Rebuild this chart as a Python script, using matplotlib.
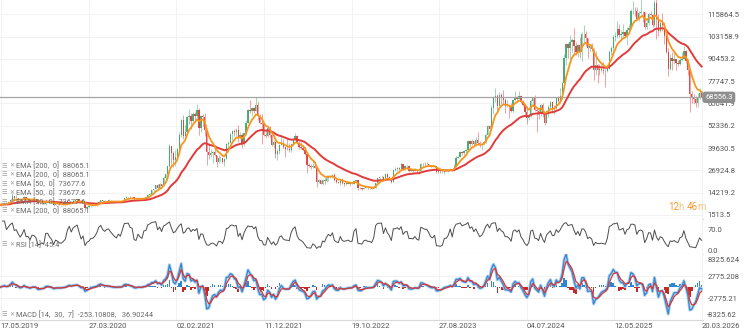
import matplotlib
matplotlib.use('Agg')
import matplotlib.pyplot as plt
import matplotlib.dates as mdates
import numpy as np
import pandas as pd

plt.rcParams['font.family'] = ['Roboto', 'DejaVu Sans']

# weekly BTC candles (open = previous close)
first_open = 7000
close = [
    # 2019
    7360, 8000, 8550,
    7800, 8700, 10200, 12400,
    11000, 11350, 10550, 9850,
    10500, 11850, 10350, 10400, 9600,
    10400, 10360, 10000, 8200,
    8150, 8300, 7950, 9250,
    9250, 8800, 8500, 7300, 7750,
    7550, 7200, 7150, 7250,
    # 2020
    7350, 8050, 8900, 8450, 9350,
    9800, 10350, 9700, 8700,
    9100, 5600, 6200, 6400,
    6850, 6850, 7100, 7550,
    8850, 9800, 9350, 9150, 9550,
    9650, 9450, 9300, 9150,
    9050, 9250, 9150, 9550, 11350,
    11600, 11800, 11550, 11500,
    10500, 10400, 10950, 10700,
    10550, 11300, 11350, 12950, 13550,
    15550, 16300, 18700, 17150,
    19150, 18050, 22850, 24700,
    # 2021
    29400, 40600, 36800, 33000, 34300,
    39300, 47100, 55900, 46300,
    48800, 57200, 58100, 55100,
    59000, 58100, 61300, 51100, 57800,
    57400, 49700, 37300, 35700,
    36900, 37300, 35500, 31600,
    33800, 33800, 31800, 33600, 42200,
    42800, 47800, 49300, 48900,
    49900, 45200, 47300, 42700,
    48200, 53900, 61500, 60900, 62200,
    61000, 64100, 58100, 53700,
    53600, 47100, 46700, 50800, 47200,
    # 2022
    41600, 43100, 36500, 37700,
    41500, 42400, 40000, 39200,
    39100, 38800, 41800, 44500,
    46300, 42800, 40500, 39700, 38600,
    36000, 30100, 29200, 28600,
    29700, 28400, 20500, 21200,
    19300, 21600, 20800, 22600, 23800,
    23200, 24400, 21200, 20300,
    19800, 21400, 19700, 19300, 19400,
    19500, 19200, 19200, 20600,
    21300, 17000, 16700, 16500,
    17000, 17100, 16800, 16800, 16600,
    # 2023
    16900, 19900, 22700, 23100,
    23400, 21600, 24600, 23200,
    22300, 20200, 27400, 27500, 28500,
    28000, 30500, 27800, 29300,
    29500, 26800, 26900, 26700,
    27200, 26500, 26300, 30700, 30500,
    30300, 30300, 29900, 29300,
    29100, 29400, 26100, 26100,
    25800, 25900, 26600, 26600, 26900,
    27900, 26900, 29700, 33900,
    34700, 37300, 36600, 37700,
    38700, 43800, 42000, 43700, 42100,
    # 2024
    44200, 42800, 41300, 41800,
    43200, 47100, 52100, 50700,
    62400, 68300, 69400, 63800, 69900,
    68000, 67100, 63800, 63800,
    62900, 60800, 67000, 68500, 67500,
    69300, 66000, 64100, 60300,
    56700, 57900, 66700, 67900,
    61400, 60900, 58900, 64100, 59100,
    53900, 60500, 63200, 65800,
    62100, 62400, 68400, 66600,
    69500, 76500, 91000, 98900, 96400,
    99800, 101400, 97800, 94200,
    # 2025
    98100, 94500, 104500, 104700, 102400,
    96500, 97600, 96100, 84400,
    86700, 84300, 84200, 84400,
    83800, 83400, 84900, 94600,
    96900, 103000, 103500, 107300, 104000,
    104400, 105900, 103300, 107100,
    108000, 117500, 117900, 117600,
    113300, 116700, 117400, 116900, 108400,
    110700, 115900, 115700, 109600,
    122300, 113200, 106400, 111000, 109600,
    103300, 94500, 84700, 90900,
    89400, 90300, 88100, 87300,
    # 2026
    90000, 90500, 95000, 89500, 84000,
    70500, 68800, 67500, 65500,
    68000, 71000, 68556.3,
]
high = [
    # 2019
    8100, 8100, 9000,
    8800, 8800, 10300, 13800,
    12500, 13100, 11400, 10700,
    10700, 12300, 11900, 10900, 10500,
    10900, 10500, 10500, 10050,
    8500, 8750, 8400, 10350,
    9550, 9450, 8950, 8550, 7850,
    7750, 7650, 7250, 7550,
    # 2020
    7450, 8200, 9000, 9150, 9550,
    9850, 10500, 10400, 9950,
    9200, 9200, 6900, 6950,
    7000, 7450, 7200, 7700,
    9450, 10000, 9950, 9850, 9600,
    10400, 9950, 9600, 9350,
    9300, 9450, 9300, 9650, 11450,
    12100, 12000, 12450, 11700,
    12050, 10650, 11000, 11000,
    10950, 11350, 11700, 13200, 13850,
    15900, 16400, 18800, 19400,
    19900, 19300, 23800, 25000,
    # 2021
    29600, 41900, 41000, 37900, 38500,
    39900, 48900, 56300, 58300,
    52600, 58000, 61700, 59400,
    60000, 60400, 64800, 62600, 58500,
    59000, 59600, 49800, 42400,
    39300, 38000, 41300, 35800,
    35900, 35000, 34600, 33900, 42300,
    43400, 48100, 49800, 50500,
    51000, 52900, 48800, 48300,
    48500, 55800, 62000, 67000, 62900,
    63000, 69000, 66300, 59300,
    59000, 53800, 50400, 51800, 52100,
    # 2022
    47900, 44400, 43500, 38900,
    41900, 45800, 44600, 40300,
    45400, 42500, 42000, 44800,
    48200, 47300, 43400, 42900, 40700,
    40000, 36100, 31400, 30600,
    32300, 31500, 28500, 21800,
    21500, 22000, 22400, 24200, 24500,
    24200, 24900, 25200, 21900,
    20400, 21600, 22700, 19900, 20300,
    20400, 19900, 19700, 20800,
    21400, 21400, 17200, 16900,
    17300, 17400, 18300, 16900, 16900,
    # 2023
    16950, 20000, 22800, 23400,
    24200, 23500, 25200, 25200,
    23900, 22400, 27700, 28800, 29000,
    28800, 31000, 30600, 30000,
    29800, 29800, 27600, 27400,
    28400, 27400, 26700, 31000, 31400,
    31500, 31800, 30400, 30000,
    29900, 30200, 29500, 26800,
    28100, 26300, 26800, 27400, 27200,
    28500, 28000, 30300, 35000,
    35300, 38000, 37900, 38400,
    39000, 44400, 44000, 44600, 43800,
    # 2024
    45800, 48900, 43400, 42200,
    43800, 48200, 52800, 52900,
    63900, 69000, 73800, 70500, 71600,
    71300, 72800, 67900, 67200,
    64400, 65500, 67300, 71900, 69500,
    71900, 70100, 66800, 64500,
    63800, 59400, 67400, 68400,
    70000, 62600, 62700, 64900, 65100,
    59900, 60600, 64100, 66400,
    66000, 64400, 68900, 69500,
    73600, 77200, 93400, 99600, 99500,
    103900, 102600, 108300, 99900,
    # 2025
    98800, 102700, 105900, 109600, 106400,
    102500, 98800, 99500, 96500,
    95000, 87400, 87400, 88700,
    88500, 84700, 86000, 95600,
    97900, 104300, 105800, 111900, 110500,
    106800, 110600, 106200, 108500,
    110500, 118900, 123200, 120200,
    119800, 117700, 124500, 117500, 117400,
    113400, 116400, 117900, 115900,
    123900, 126200, 115900, 112000, 116400,
    111200, 107500, 96600, 93000,
    94100, 94600, 90400, 89900,
    # 2026
    91000, 94500, 97900, 95500, 90500,
    84500, 72200, 70500, 69200,
    70800, 74000, 72300,
]
low = [
    # 2019
    6900, 7250, 7950,
    7500, 7700, 8600, 10100,
    10000, 10900, 9100, 9450,
    9300, 10400, 9800, 9900, 9400,
    9550, 9950, 9900, 7900,
    7900, 8000, 7800, 7350,
    8900, 8750, 8400, 6800, 7000,
    7300, 7050, 6450, 7050,
    # 2020
    6850, 7300, 8000, 8250, 8400,
    9150, 9750, 9500, 8500,
    8550, 3850, 4900, 5700,
    6200, 6700, 6600, 6900,
    7500, 8700, 8200, 8800, 8700,
    9400, 9200, 9250, 8950,
    8950, 9000, 9100, 9150, 9500,
    10900, 11100, 11400, 11150,
    9900, 9900, 10300, 10150,
    10400, 10500, 11250, 11300, 12800,
    13200, 14850, 16200, 16250,
    17000, 17600, 17900, 22000,
    # 2021
    24500, 29000, 30400, 28900, 29200,
    32400, 37800, 46200, 44900,
    45000, 48200, 53200, 50400,
    54700, 55700, 56800, 47100, 48800,
    52500, 46600, 30100, 33400,
    34800, 31100, 35000, 28800,
    31200, 32100, 31100, 29300, 33400,
    37400, 42800, 44400, 46400,
    46800, 42900, 44700, 39600,
    40800, 47000, 53900, 59700, 58000,
    59400, 60700, 55600, 53300,
    42000, 46800, 45500, 46200, 45700,
    # 2022
    40600, 39700, 34000, 32900,
    36300, 41200, 39600, 34300,
    38500, 37300, 37600, 40800,
    44200, 42100, 39200, 39200, 37700,
    35600, 25400, 28700, 28000,
    28500, 28100, 17600, 19600,
    18900, 18800, 19400, 20400, 20800,
    22700, 22700, 20800, 19600,
    19600, 18500, 19400, 18200, 18500,
    19200, 18200, 18900, 19100,
    20100, 15600, 16400, 15500,
    16400, 16800, 16600, 16600, 16400,
    # 2023
    16500, 16900, 19800, 22300,
    22600, 21400, 21400, 22800,
    22000, 19600, 20100, 26700, 26600,
    27200, 28000, 27200, 27100,
    27700, 26000, 26600, 26100,
    26600, 25400, 24800, 26200, 29500,
    29700, 29900, 29600, 29100,
    28600, 28800, 25200, 25700,
    25300, 25400, 24900, 26400, 26000,
    26900, 26600, 26700, 29600,
    33900, 34500, 35500, 35700,
    37000, 38600, 40300, 41300, 41500,
    # 2024
    40800, 41500, 40500, 38500,
    41500, 42300, 47000, 50600,
    50600, 59100, 65700, 60800, 63800,
    64500, 65000, 59800, 62800,
    56600, 60400, 60200, 66600, 66700,
    67400, 65100, 63400, 58500,
    53500, 55800, 57600, 63500,
    61000, 49000, 56100, 57800, 57300,
    52600, 53800, 57500, 62500,
    59900, 58900, 62000, 65100,
    66000, 67500, 76400, 87100, 90800,
    90500, 94300, 92200, 92500,
    # 2025
    91300, 91200, 89300, 99600, 97800,
    91200, 94800, 94900, 78200,
    81500, 76600, 81300, 83000,
    81600, 74500, 83100, 84500,
    92900, 93500, 100800, 102300, 103100,
    100400, 102600, 102800, 98200,
    106700, 107500, 116100, 114700,
    112700, 112200, 116000, 111700, 107500,
    107300, 110000, 114800, 108700,
    109200, 102000, 103500, 106000, 106300,
    99000, 94000, 80600, 84000,
    84000, 87500, 84400, 86300,
    # 2026
    86800, 89300, 90200, 88000, 81000,
    60200, 65100, 64800, 62800,
    63200, 67600, 67800,
]

price_ticks = [1513.5, 14219.2, 26924.8, 39630.5, 52336.2,
               65041.9, 77747.5, 90453.2, 103158.9, 115864.5]
price_labels = ['1513.5', '14219.2', '26924.8', '39630.5', '52336.2',
                '65041.9', '77747.5', '90453.2', '103158.9', '115864.5']
date_ticks = ['2019-05-17', '2020-03-27', '2021-02-02', '2021-12-11', '2022-10-19',
              '2023-08-27', '2024-07-04', '2025-05-12', '2026-03-20']
date_labels = ['17.05.2019', '27.03.2020', '02.02.2021', '11.12.2021', '19.10.2022',
               '27.08.2023', '04.07.2024', '12.05.2025', '20.03.2026']
legend_rows = ['EMA [200,  0]  88065.1', 'EMA [200,  0]  88065.1',
               'EMA [50,  0]  73677.6', 'EMA [50,  0]  73677.6',
               'EMA [50,  0]  73677.6', 'EMA [200,  0]  88065.1']
rsi_label = 'RSI [14]  45.4'
macd_label = 'MACD [14,  30,  7]  -253.10808,   36.90244'
last_price = 68556.3

# indicator periods are daily; the data here is weekly, so divide by 7
DAYS = 7.0
RSI_PERIOD = 4   # weekly stand-in for the noisy daily RSI 14

dates = pd.date_range('2019-05-17', periods=len(close), freq='7D')
x = mdates.date2num(dates)
cl = np.array(close, dtype=float)
op = np.array([first_open] + close[:-1], dtype=float)
hi = np.array(high, dtype=float)
lo = np.array(low, dtype=float)
s = pd.Series(cl)

ema50 = s.ewm(span=50 / DAYS, adjust=False).mean()
ema200 = s.ewm(span=200 / DAYS, adjust=False).mean()

delta = s.diff()
gain = delta.clip(lower=0).ewm(alpha=1 / RSI_PERIOD, adjust=False).mean()
loss = (-delta.clip(upper=0)).ewm(alpha=1 / RSI_PERIOD, adjust=False).mean()
rsi = 100 - 100 / (1 + gain / loss)

macd = s.ewm(span=14 / DAYS, adjust=False).mean() - s.ewm(span=30 / DAYS, adjust=False).mean()
signal = macd.ewm(span=3, adjust=False).mean()
hist = macd - signal

W, H = 745, 336
fig = plt.figure(figsize=(W / 100, H / 100), dpi=100)


def panel(top, bottom):
    return fig.add_axes([0, 1 - bottom / H, 703 / W, (bottom - top) / H])


ax = panel(0, 219)
ax_rsi = panel(219, 254)
ax_macd = panel(254, 320)

tick_x = mdates.date2num(pd.to_datetime(date_ticks))
for a in (ax, ax_rsi, ax_macd):
    for sp in ['top', 'left', 'right']:
        a.spines[sp].set_visible(False)
    a.spines['bottom'].set_color('#d8d8d8')
    a.set_xlim(x[0] - 2, x[-1] + 5)
    a.set_xticks(tick_x)
    a.grid(color='#f0f0f0', lw=0.6)
    a.set_axisbelow(True)
    a.yaxis.tick_right()
    a.tick_params(length=0, labelsize=5.5, labelcolor='#555555', pad=3.5)
    a.tick_params(axis='x', labelbottom=False)

# price panel
up = cl >= op
col = np.where(up, '#3aa86b', '#dc3a3a')
ax.vlines(x, lo, hi, colors=col, lw=0.6, alpha=0.55, zorder=2)
ax.bar(x, np.maximum(np.abs(cl - op), 250), bottom=np.minimum(op, cl),
       width=4.6, color=col, lw=0, alpha=0.9, zorder=2)
ax.axhline(last_price, color='#a5a5a5', lw=0.9, zorder=2.5)
ax.plot(x, ema200, color='#e23b3b', lw=1.4, zorder=3)
ax.plot(x, ema50, color='#f7961e', lw=1.3, zorder=4)
ax.set_ylim(-766, 124000)
ax.set_yticks(price_ticks)
ax.set_yticklabels(price_labels)
ax.text(1.003, last_price, '68556.3', transform=ax.get_yaxis_transform(),
        ha='left', va='center', fontsize=5.5, color='white', zorder=6, clip_on=False,
        bbox=dict(boxstyle='round,pad=0.35', fc='#8f8f8f', ec='none'))

# rsi panel
ax_rsi.plot(x, rsi, color='#4d4d4d', lw=0.7)
ax_rsi.set_ylim(-12, 107)
ax_rsi.set_yticks([0, 70])
ax_rsi.set_yticklabels(['0.0', '70.0'])
ax_rsi.grid(False, axis='y')
ax_rsi.spines['bottom'].set_color('#e6e6e6')

# macd panel
hcol = np.where(hist >= 0, '#2f86d0', '#c62828')
ax_macd.bar(x, hist, width=5.5, color=hcol, lw=0, zorder=2)
ax_macd.plot(x, macd, color='#a9cff0', lw=2.2, zorder=3)
ax_macd.plot(x, macd, color='#3a86cc', lw=0.9, zorder=4)
ax_macd.plot(x, signal, color='#d93636', lw=0.9, zorder=5)
ax_macd.set_ylim(-8325.62, 8325.624)
ax_macd.set_yticks([-2775.21, 2775.208])
ax_macd.set_yticklabels(['-2775.21', '2775.208'])
ax_macd.text(1.006, 0.96, '8325.624', transform=ax_macd.transAxes, ha='left', va='top',
             fontsize=5.5, color='#555555')
ax_macd.text(1.006, 0.03, '-8325.62', transform=ax_macd.transAxes, ha='left', va='bottom',
             fontsize=5.5, color='#555555')
ax_macd.tick_params(axis='x', labelbottom=True, pad=2.5)
ax_macd.set_xticklabels(date_labels)
for t in ax_macd.get_xticklabels():
    t.set_ha('left')


def ftext(px, py, s, **kw):
    return fig.text(px / W, 1 - py / H, s, va='center', **kw)


def icon_row(py, label):
    ftext(1, py, '\u2630', fontsize=4.5, color='#9a9a9a', family='DejaVu Sans')
    ftext(9, py, '\u2715', fontsize=4.2, color='#9a9a9a', family='DejaVu Sans')
    ftext(16, py, label, fontsize=5.3, color='#6a6a6a')


for py, label in zip([166, 175, 184, 193, 202, 211], legend_rows):
    icon_row(py, label)
icon_row(245, rsi_label)
icon_row(315, macd_label)

# candle countdown, each piece placed right after the previous one
prev = ftext(668, 207, '12', fontsize=7, color='#f39a2b')
for piece, c in [('h ', '#f7c48a'), ('46', '#f39a2b'), ('m', '#f7c48a')]:
    prev = ax.annotate(piece, xy=(1, 0), xycoords=prev, va='bottom', ha='left',
                       fontsize=7, color=c, annotation_clip=False)

fig.savefig('out.png', dpi=100)
